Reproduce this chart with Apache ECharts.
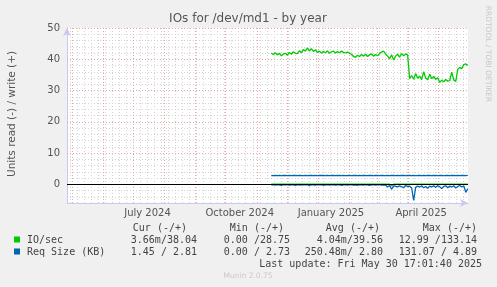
<!DOCTYPE html>
<html>
<head>
<meta charset="utf-8">
<title>IOs for /dev/md1 - by year</title>
<script src="https://cdn.jsdelivr.net/npm/echarts@6/dist/echarts.min.js"></script>
<style>
  html, body { margin: 0; padding: 0; background: #f0f0f0; }
  #main { width: 497px; height: 287px; }
</style>
</head>
<body>
<div id="main"></div>
<script>
// graph window: 400 days up to the last update
var rangeStart = new Date(2024, 3, 25, 17, 1, 40).getTime();
var rangeEnd = new Date(2025, 4, 30, 17, 1, 40).getTime();
// samples, one every 2 days
var dataStart = new Date(2024, 10, 15, 12, 0, 0).getTime();
var stepDays = 2;

var ioWrite = [
  41.9, 41.5, 42.1, 41.4, 41.9, 41.1, 41.7,
  41.9, 41.3, 42.2, 41.6, 42.4, 41.9, 41.8,
  42.7, 42.1, 43.1, 42.6, 43.6, 42.7, 43.4,
  42.5, 43.0, 42.2, 42.6, 42.0, 42.5, 42.1,
  42.7, 41.9, 42.4, 42.6, 42.0, 42.5, 42.1,
  42.6, 42.2, 42.0, 42.3, 41.9, 41.6, 40.9,
  40.6, 41.3, 40.9, 41.5, 41.0, 41.6, 40.9,
  41.4, 41.7, 41.0, 41.5, 41.1, 41.8, 42.3,
  42.6, 41.7, 41.0, 40.1, 41.4, 39.8,
  41.0, 41.6, 40.7, 41.8, 41.1, 41.7, 41.4,
  33.8,
  34.8, 33.6, 35.4, 33.9, 34.6, 33.5, 36.0,
  34.0, 33.4, 35.2, 33.8, 34.5, 33.6, 34.1,
  32.6, 33.3, 32.8, 33.5, 33.0, 33.2, 35.9,
  33.4, 32.9, 36.8, 37.4, 37.0, 38.3, 38.5, 38.04
];
var ioRead = [
  0, 0, 0, 0, 0, 0, 0, 0, 0, 0,
  0, 0, 0, 0, 0, 0, 0, 0, 0, 0,
  0, 0, 0, 0, 0, 0, 0, 0, 0, 0,
  0, 0, 0, 0, 0, 0, 0, 0, 0, 0,
  0, 0, 0, 0, 0, 0, 0, 0, 0, 0,
  0, 0, 0, 0, 0, 0, 0, 0, 0, 0,
  -0.5, 0, 0, 0, 0, 0, 0, 0, 0, 0,
  0, 0, 0, 0, 0, 0, 0, 0, 0, 0,
  0, 0, 0, 0, 0, 0, 0, 0, 0, 0,
  0, 0, 0, 0, 0, 0, 0, 0, 0
];
var reqWrite = [
  2.80, 2.78, 2.82, 2.79, 2.81, 2.77, 2.80, 2.83, 2.79, 2.80,
  2.78, 2.81, 2.80, 2.76, 2.82, 2.80, 2.79, 2.81, 2.78, 2.80,
  2.82, 2.79, 2.80, 2.77, 2.81, 2.80, 2.83, 2.79, 2.80, 2.78,
  2.81, 2.80, 2.79, 2.82, 2.80, 2.78, 2.81, 2.79, 2.80, 2.82,
  2.77, 2.80, 2.81, 2.79, 2.80, 2.78, 2.82, 2.80, 2.79, 2.81,
  2.80, 2.78, 2.81, 2.80, 2.77, 2.82, 2.80, 2.79, 2.81, 2.78,
  2.80, 2.82, 2.79, 2.80, 2.78, 2.81, 2.80, 2.79, 2.82, 2.80,
  2.78, 2.81, 2.79, 2.80, 2.83, 2.79, 2.80, 2.78, 2.81, 2.80,
  2.79, 2.82, 2.80, 2.78, 2.81, 2.80, 2.79, 2.80, 2.82, 2.78,
  2.80, 2.81, 2.79, 2.80, 2.78, 2.81, 2.80, 2.79, 2.81
];
var reqRead = [
  -0.2, -0.1, -0.3, -0.1, -0.2, -0.4, -0.1, -0.2, -0.1, -0.3,
  -0.2, -0.1, -0.4, -0.1, -0.2, -0.3, -0.1, -0.2, -0.1, -0.5,
  -0.1, -0.2, -0.3, -0.1, -0.2, -0.1, -0.4, -0.2, -0.1, -0.3,
  -0.2, -0.1, -0.3, -0.2, -0.1, -0.4, -0.2, -0.1, -0.3, -0.2,
  -0.1, -0.3, -0.2, -0.4, -0.1, -0.2, -0.3, -0.1, -0.2, -0.4,
  -0.2, -0.1, -0.3, -0.2, -0.1, -0.3,
  -0.3, -0.2, -0.9, -0.4, -1.6, -0.5,
  -0.6, -0.9, -0.5, -0.8, -1.1, -0.4, -0.7,
  -0.6, -1.2, -5.2, -1.0, -0.6, -0.9, -0.5, -1.1,
  -0.7, -1.3, -0.6, -0.9, -0.5, -1.0, -0.4, -0.8, -1.4, -0.7, -0.5, -1.1, -0.6, -0.9,
  -0.5, -1.2, -0.7, -0.4, -0.9, -0.5, -2.6, -1.45
];

// y axis labels and x axis labels
var yLabels = [0, 10, 20, 30, 40, 50];
var xLabelDates = [new Date(2024, 6, 15), new Date(2024, 9, 15), new Date(2025, 0, 14), new Date(2025, 3, 14)];
var xLabels = ['July 2024', 'October 2024', 'January 2025', 'April 2025'];

// legend table
var legendHead = ['Cur (-/+)', 'Min (-/+)', 'Avg (-/+)', 'Max (-/+)'];
var legendNames = ['IO/sec', 'Req Size (KB)'];
var legendColors = ['#00cc00', '#0066b3'];
var legendValues = [
  ['3.66m/38.04', '0.00 /28.75', '4.04m/39.56', '12.99 /133.14'],
  ['1.45 / 2.81', '0.00 / 2.73', '250.48m/ 2.80', '131.07 / 4.89']
];

var DAY = 86400000;
function toPairs(arr) {
  var out = [];
  for (var i = 0; i < arr.length; i++) {
    out.push([dataStart + i * stepDays * DAY, arr[i]]);
  }
  return out;
}

// grid line dates: first of month (major) and mondays (minor)
var monthLines = [], weekLines = [];
var d = new Date(2024, 4, 1);
while (d.getTime() < rangeEnd) {
  monthLines.push({ xAxis: d.getTime() });
  d = new Date(d.getFullYear(), d.getMonth() + 1, 1);
}
d = new Date(2024, 3, 29);
while (d.getTime() < rangeEnd) {
  weekLines.push({ xAxis: d.getTime() });
  d = new Date(d.getFullYear(), d.getMonth(), d.getDate() + 7);
}

var mono = 'DejaVu Sans Mono';
var sans = 'DejaVu Sans';
var txtColor = '#444';

var graphics = [];
function addText(x, y, text, opts) {
  opts = opts || {};
  graphics.push({
    type: 'text', x: x, y: y, rotation: opts.rotation || 0, silent: true,
    style: {
      text: text, fill: opts.color || txtColor,
      font: (opts.size || 10) + 'px "' + (opts.font || mono) + '"',
      textAlign: opts.align || 'left', textVerticalAlign: 'middle'
    }
  });
}

addText(248, 19, 'IOs for /dev/md1 - by year', { font: sans, size: 12, align: 'center', color: '#555' });
addText(12, 114, 'Units read (-) / write (+)', { font: sans, size: 10.5, align: 'center', rotation: Math.PI / 2, color: '#555' });
addText(488, 54, 'RRDTOOL / TOBI OETIKER', { font: sans, size: 7.5, align: 'center', rotation: -Math.PI / 2, color: '#c8c8c8' });

var headX = [187, 284, 380, 477];
var valX = [197, 290, 383, 477];
for (var c = 0; c < legendHead.length; c++) {
  addText(headX[c], 228, legendHead[c], { align: 'right' });
}
for (var r = 0; r < legendNames.length; r++) {
  var y = 240 + r * 12;
  graphics.push({ type: 'rect', shape: { x: 14, y: y - 3.5, width: 6, height: 6 }, style: { fill: legendColors[r] }, silent: true });
  addText(27, y, legendNames[r]);
  for (var c2 = 0; c2 < legendValues[r].length; c2++) {
    addText(valX[c2], y, legendValues[r][c2], { align: 'right' });
  }
}
addText(482, 264, 'Last update: Fri May 30 17:01:40 2025', { align: 'right' });
addText(248, 276, 'Munin 2.0.75', { font: sans, size: 7.5, align: 'center', color: '#c8c8c8' });

var chart = echarts.init(document.getElementById('main'));

var gridRed = '#e8a8a8';
var gridGray = '#d4d4d4';
var axisBlue = '#c8c8f0';

function lineSeries(name, arr, color) {
  return {
    name: name, type: 'line', data: toPairs(arr), showSymbol: false, symbol: 'none',
    lineStyle: { color: color, width: 1.3 }, itemStyle: { color: color },
    animation: false, z: 5
  };
}

function styled(list, color) {
  return list.map(function (o) {
    var item = { lineStyle: { color: color, type: [1, 2], width: 1 } };
    if (o.xAxis !== undefined) item.xAxis = o.xAxis;
    if (o.yAxis !== undefined) item.yAxis = o.yAxis;
    return item;
  });
}

var yMajor = yLabels.map(function (v) { return { yAxis: v }; });

var option = {
  backgroundColor: '#f0f0f0',
  animation: false,
  grid: { left: 67, right: 29, top: 28, bottom: 84, show: true, backgroundColor: '#ffffff', borderWidth: 0 },
  xAxis: {
    type: 'value', min: rangeStart, max: rangeEnd,
    axisLine: { show: true, onZero: false, lineStyle: { color: axisBlue, width: 1 }, symbol: ['none', 'arrow'], symbolSize: [6, 8] },
    axisTick: { show: false },
    splitLine: { show: false },
    axisLabel: { show: false }
  },
  yAxis: {
    type: 'value', min: -6, max: 50, interval: 2,
    axisLine: { show: true, onZero: false, lineStyle: { color: axisBlue, width: 1 }, symbol: ['none', 'arrow'], symbolSize: [6, 8] },
    axisTick: { show: false },
    splitLine: { show: true, lineStyle: { color: gridGray, type: [1, 2], width: 1 } },
    axisLabel: {
      formatter: function (v) { return yLabels.indexOf(v) >= 0 ? String(v) : ''; },
      color: '#555', fontFamily: sans, fontSize: 10, margin: 7
    }
  },
  series: [
    {
      // grid lines
      type: 'line', data: [], silent: true, z: 1,
      markLine: {
        silent: true, symbol: 'none', animation: false,
        label: { show: false },
        data: styled(weekLines, gridGray).concat(styled(monthLines, gridRed)).concat(styled(yMajor, gridRed))
      }
    },
    lineSeries('IO/sec read', ioRead, '#00cc00'),
    lineSeries('IO/sec', ioWrite, '#00cc00'),
    lineSeries('Req Size read', reqRead, '#0066b3'),
    lineSeries('Req Size (KB)', reqWrite, '#0066b3'),
    {
      // zero line on top
      type: 'line', data: [], silent: true, z: 8,
      markLine: {
        silent: true, symbol: 'none', animation: false, label: { show: false }, z: 8,
        data: [{ yAxis: 0, lineStyle: { color: '#000000', type: 'solid', width: 1 } }]
      }
    }
  ]
};

chart.setOption(option);

// month labels under the axis, placed through the x scale
for (var k = 0; k < xLabels.length; k++) {
  var px = chart.convertToPixel({ gridIndex: 0 }, [xLabelDates[k].getTime(), -6]);
  addText(px[0], px[1] + 10, xLabels[k], { font: sans, size: 10, align: 'center', color: '#555' });
}
chart.setOption({ graphic: graphics });
</script>
</body>
</html>
